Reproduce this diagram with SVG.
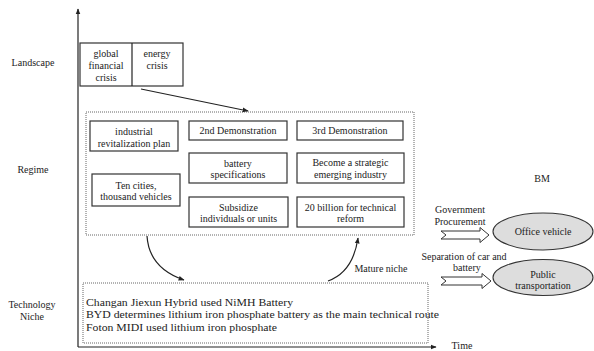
<svg xmlns="http://www.w3.org/2000/svg" width="594" height="351" viewBox="0 0 594 351" font-family="'Liberation Serif', 'DejaVu Serif', serif">
<style>
text{font-family:'Liberation Serif','Times New Roman','DejaVu Serif',serif;fill:#222;font-size:10px;text-anchor:middle}
.box{fill:#fff;stroke:#333;stroke-width:1.2}
.dot{fill:none;stroke:#666;stroke-width:1;stroke-dasharray:1 1}
.line{fill:none;stroke:#222;stroke-width:1.2}
.ell{fill:#ddd;stroke:#333;stroke-width:1.1}
.hollow{fill:#fff;stroke:#333;stroke-width:1}
.niche{font-size:11px;text-anchor:start}
</style>
<defs>
<marker id="ah" viewBox="0 0 10 10" refX="9" refY="5" markerWidth="6" markerHeight="6" orient="auto" markerUnits="userSpaceOnUse">
<path d="M0,1 L10,5 L0,9 z" fill="#222"/>
</marker>
</defs>
<rect width="594" height="351" fill="#fff"/>

<g id="labels">
<text x="33" y="66">Landscape</text>
<text x="33" y="173">Regime</text>
<text x="32" y="308">Technology</text>
<text x="32" y="320">Niche</text>
<text x="542" y="182">BM</text>
<text x="462" y="349">Time</text>
</g>

<g id="axes">
<line class="line" x1="78" y1="347" x2="78" y2="9" marker-end="url(#ah)"/>
<line class="line" x1="78" y1="347" x2="436" y2="347" marker-end="url(#ah)"/>
</g>

<g id="landscape">
<rect class="box" x="80" y="43" width="103" height="43"/>
<line class="line" x1="132" y1="43" x2="132" y2="86"/>
<text x="106" y="57">global</text>
<text x="106" y="69">financial</text>
<text x="106" y="81">crisis</text>
<text x="157" y="57">energy</text>
<text x="157" y="69">crisis</text>
</g>

<g id="regime">
<rect class="dot" x="86" y="112" width="328" height="123"/>
</g>
<g id="n-industrial">
<rect class="box" x="90" y="121" width="88" height="30"/>
<text x="134" y="135">industrial</text>
<text x="134" y="146.5">revitalization plan</text>
</g>
<g id="n-tencities">
<rect class="box" x="92" y="174" width="88" height="32"/>
<text x="136" y="188.5">Ten cities,</text>
<text x="136" y="199.5">thousand vehicles</text>
</g>
<g id="n-2nd">
<rect class="box" x="189" y="121" width="98" height="19"/>
<text x="238" y="134">2nd Demonstration</text>
</g>
<g id="n-battery">
<rect class="box" x="189" y="153" width="98" height="30"/>
<text x="238" y="166.5">battery</text>
<text x="238" y="178">specifications</text>
</g>
<g id="n-subsidize">
<rect class="box" x="189" y="197" width="99" height="30"/>
<text x="238.5" y="210.5">Subsidize</text>
<text x="238.5" y="222">individuals or units</text>
</g>
<g id="n-3rd">
<rect class="box" x="297" y="121" width="106" height="19"/>
<text x="350" y="134">3rd Demonstration</text>
</g>
<g id="n-strategic">
<rect class="box" x="297" y="153" width="107" height="30"/>
<text x="350.5" y="165.5">Become a strategic</text>
<text x="350.5" y="177.5">emerging industry</text>
</g>
<g id="n-billion">
<rect class="box" x="297" y="197" width="107" height="30"/>
<text x="350.5" y="210.5">20 billion for technical</text>
<text x="350.5" y="222">reform</text>
</g>

<g id="niche">
<rect class="dot" x="83" y="283" width="345" height="60"/>
<text class="niche" x="86" y="305.5" textLength="207" lengthAdjust="spacingAndGlyphs">Changan Jiexun Hybrid used NiMH Battery</text>
<text class="niche" x="86" y="318" textLength="353" lengthAdjust="spacingAndGlyphs">BYD determines lithium iron phosphate battery as the main technical route</text>
<text class="niche" x="86" y="330.5" textLength="191" lengthAdjust="spacingAndGlyphs">Foton MIDI used lithium iron phosphate</text>
</g>

<g id="n-office">
<ellipse class="ell" cx="543" cy="231.5" rx="50" ry="18.5"/>
<text x="543" y="235">Office vehicle</text>
</g>
<g id="n-public">
<ellipse class="ell" cx="543" cy="277.5" rx="50" ry="18"/>
<text x="543" y="278">Public</text>
<text x="543" y="289">transportation</text>
</g>

<g id="connectors">
<line class="line" x1="141" y1="89" x2="248" y2="111" marker-end="url(#ah)"/>
<path class="line" d="M147,236 Q149,268 184,280" marker-end="url(#ah)"/>
<path class="line" d="M328,281 Q353,272 358,238" marker-end="url(#ah)"/>
<text x="381" y="272">Mature niche</text>
<polygon class="hollow" points="441,231 480,231 480,227.5 489,235 480,242.5 480,239 441,239 446,235"/>
<text x="460" y="213">Government</text>
<text x="460" y="225">Procurement</text>
<polygon class="hollow" points="441,277 482,277 482,273.5 491,281 482,288.5 482,285 441,285 446,281"/>
<text x="464" y="260">Separation of car and</text>
<text x="467" y="271">battery</text>
</g>
</svg>
